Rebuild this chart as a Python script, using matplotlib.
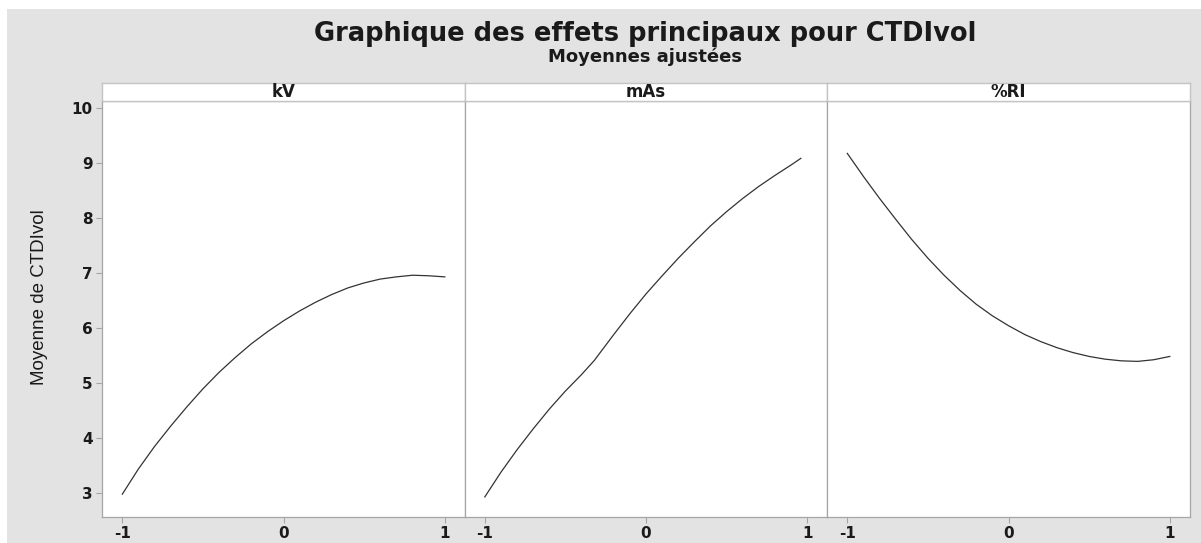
import matplotlib.pyplot as plt
from matplotlib.patches import Rectangle

plt.rcParams["axes.unicode_minus"] = False

# Moyennes ajustées lues sur chaque facteur (niveaux codés)
x_kv = [-1.0, -0.9, -0.8, -0.7, -0.6, -0.5, -0.4, -0.3, -0.2, -0.1, 0.0,
        0.1, 0.2, 0.3, 0.4, 0.5, 0.6, 0.7, 0.8, 0.9, 1.0]
y_kv = [2.97, 3.43, 3.84, 4.21, 4.56, 4.89, 5.19, 5.46, 5.71, 5.93, 6.13,
        6.31, 6.47, 6.61, 6.73, 6.82, 6.89, 6.93, 6.96, 6.95, 6.93]

x_mas = [-1.0, -0.9, -0.8, -0.7, -0.6, -0.5, -0.4, -0.32, -0.31, -0.2, -0.1,
         0.0, 0.1, 0.2, 0.3, 0.4, 0.5, 0.6, 0.7, 0.8, 0.9, 0.96]
y_mas = [2.92, 3.37, 3.78, 4.16, 4.52, 4.85, 5.15, 5.41, 5.45, 5.88, 6.26,
         6.62, 6.95, 7.27, 7.57, 7.86, 8.12, 8.36, 8.58, 8.78, 8.97, 9.09]

x_ri = [-1.0, -0.9, -0.8, -0.7, -0.6, -0.5, -0.4, -0.3, -0.2, -0.1, 0.0,
        0.1, 0.2, 0.3, 0.4, 0.5, 0.6, 0.7, 0.8, 0.9, 1.0]
y_ri = [9.18, 8.76, 8.36, 7.98, 7.61, 7.27, 6.96, 6.68, 6.43, 6.22, 6.04,
        5.88, 5.75, 5.64, 5.55, 5.48, 5.43, 5.40, 5.39, 5.42, 5.48]

facteurs = ["kV", "mAs", "%RI"]
courbes = [(x_kv, y_kv), (x_mas, y_mas), (x_ri, y_ri)]
xticks = [-1, 0, 1]
yticks = [3, 4, 5, 6, 7, 8, 9, 10]

W, H = 1201, 543
fig = plt.figure(figsize=(W / 100, H / 100), dpi=100)
fig.patch.set_facecolor("white")

# fond gris du graphique, derrière les panneaux
fig.patches.append(Rectangle((7 / W, 0), 1, (H - 9) / H, transform=fig.transFigure,
                             facecolor="#e3e3e3", edgecolor="none", zorder=-10))

gauche = 102.3
larg = 362.5
bas = (H - 516.7) / H
haut = (516.7 - 100.7) / H
bandeau_h = 17.7 / H

for i, (nom, (xs, ys)) in enumerate(zip(facteurs, courbes)):
    x0 = (gauche + i * larg) / W
    ax = fig.add_axes([x0, bas, larg / W, haut])
    ax.set_facecolor("white")
    ax.plot(xs, ys, color="#333333", lw=0.9)
    ax.set_xlim(-1.124, 1.124)
    ax.set_ylim(2.56, 10.14)
    ax.set_xticks(xticks)
    ax.set_yticks(yticks)
    for s in ax.spines.values():
        s.set_color("#a5a5a5")
        s.set_linewidth(0.9)
    ax.tick_params(axis="both", colors="#a5a5a5", length=4, width=0.8,
                   labelcolor="#1a1a1a", labelsize=11, pad=3)
    for lab in ax.get_xticklabels() + ax.get_yticklabels():
        lab.set_fontweight("bold")
    if i > 0:
        ax.tick_params(axis="y", left=False, labelleft=False)

    # bandeau du facteur
    sb = fig.add_axes([x0, bas + haut, larg / W, bandeau_h])
    sb.set_facecolor("white")
    sb.set_xticks([])
    sb.set_yticks([])
    for s in sb.spines.values():
        s.set_color("#c4c4c4")
        s.set_linewidth(1.0)
    sb.text(0.5, 0.5, nom, ha="center", va="center", fontsize=12,
            fontweight="bold", color="#1a1a1a", transform=sb.transAxes)

fig.text(645 / W, 1 - 34 / H, "Graphique des effets principaux pour CTDIvol",
         ha="center", va="center", fontsize=18.5, fontweight="bold",
         color="#1a1a1a")
fig.text(645 / W, 1 - 57 / H, "Moyennes ajustées", ha="center", va="center",
         fontsize=13, fontweight="bold", color="#1a1a1a")
fig.text(40 / W, 1 - 297 / H, "Moyenne de CTDIvol", rotation=90, ha="center",
         va="center", fontsize=13.5, family=["Liberation Sans", "DejaVu Sans"],
         color="#1a1a1a")

fig.savefig("out.png", dpi=100)
